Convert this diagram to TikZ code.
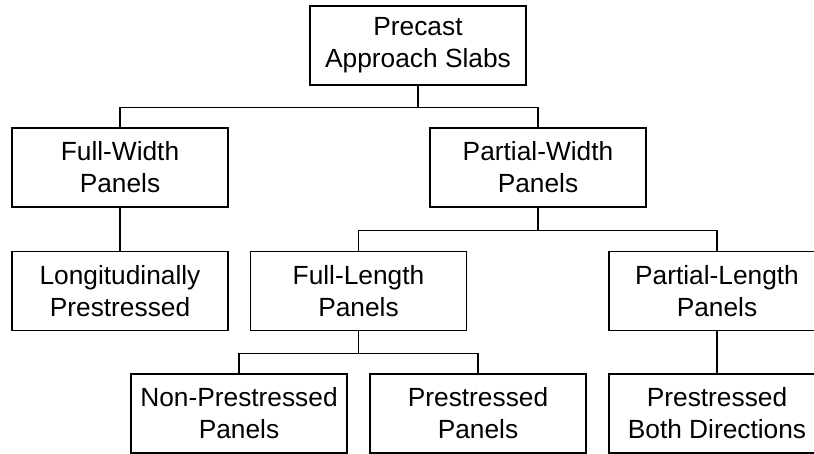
\documentclass[tikz,border=0pt]{standalone}
\usepackage{fontspec}
\setmainfont{Liberation Sans}
\usepackage{tikz}
\usetikzlibrary{calc,positioning}

\begin{document}
\begin{tikzpicture}[x=1pt, y=-1pt,
    panel/.style={draw, line width=1.3pt, minimum width=216pt, minimum height=79pt,
      inner sep=0pt, align=center, font=\fontsize{26.3}{32}\selectfont},
    link/.style={line width=1.3pt}]
        % Frame of the picture (right column runs off the edge)
        \useasboundingbox (0,0) rectangle (814,454);
        \clip (0,0) rectangle (814,454);
        % Top level
        \node[panel] (slabs) at (418, 45.5) {Precast\\Approach Slabs};
        % Second level
        \node[panel] (fullW) at (120, 167.5) {Full-Width\\Panels};
        \node[panel] (partW) at (538, 167.5) {Partial-Width\\Panels};
        % Third level
        \node[panel] (longi) at (120, 291) {Longitudinally\\Prestressed};
        \node[panel] (fullL) at (358.5, 291) {Full-Length\\Panels};
        \node[panel] (partL) at (717, 291) {Partial-Length\\Panels};
        % Bottom level
        \node[panel] (nonPre) at (239, 413.5) {Non-Prestressed\\Panels};
        \node[panel] (pre) at (478, 413.5) {Prestressed\\Panels};
        \node[panel] (both) at (717, 413.5) {Prestressed\\Both Directions};
        % Branch lines
        \draw[link] (slabs.south) -- ++(0,22) -| (fullW.north);
        \draw[link] (slabs.south) -- ++(0,22) -| (partW.north);
        \draw[link] (fullW.south) -- (longi.north);
        \draw[link] (partW.south) -- ++(0,23) -| (fullL.north);
        \draw[link] (partW.south) -- ++(0,23) -| (partL.north);
        \draw[link] (fullL.south) -- ++(0,22) -| (nonPre.north);
        \draw[link] (fullL.south) -- ++(0,22) -| (pre.north);
        \draw[link] (partL.south) -- (both.north);
      \end{tikzpicture}
\end{document}
